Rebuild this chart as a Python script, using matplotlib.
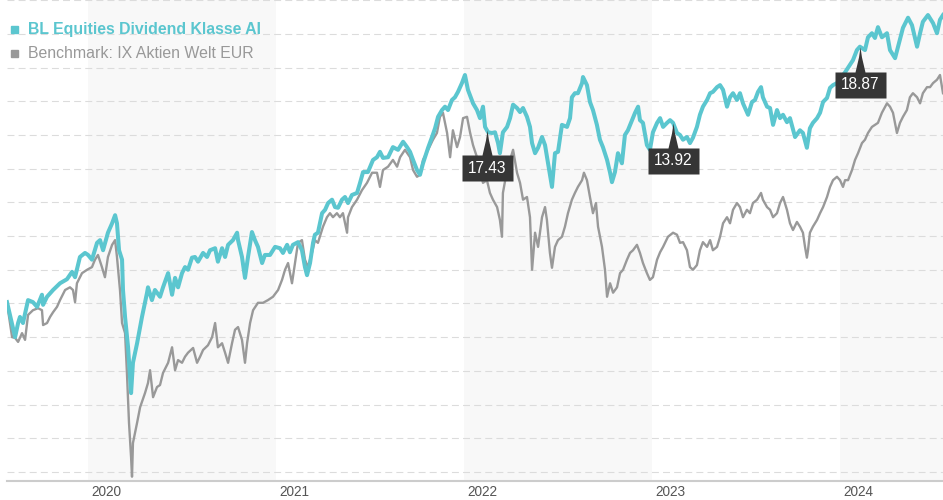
import numpy as np
import matplotlib
matplotlib.use("Agg")
import matplotlib.pyplot as plt
from matplotlib.path import Path

plt.rcParams['font.family'] = ['Liberation Sans', 'DejaVu Sans']
plt.rcParams['lines.scale_dashes'] = False

# Fund and benchmark performance in %, x as decimal years
fund_name = "BL Equities Dividend Klasse AI"
bench_name = "Benchmark: IX Aktien Welt EUR"

fund_t = [
    2019.569, 2019.612, 2019.628, 2019.638, 2019.654, 2019.681, 2019.707, 2019.729, 2019.755, 2019.761,
    2019.782, 2019.814, 2019.851, 2019.888, 2019.915, 2019.931, 2019.957, 2019.984, 2020.000, 2020.021,
    2020.048, 2020.064, 2020.080, 2020.106, 2020.128, 2020.144, 2020.154, 2020.165, 2020.181, 2020.186,
    2020.197, 2020.213, 2020.229, 2020.239, 2020.261, 2020.287, 2020.314, 2020.319, 2020.340, 2020.356,
    2020.383, 2020.399, 2020.426, 2020.447, 2020.463, 2020.479, 2020.500, 2020.516, 2020.532, 2020.553,
    2020.569, 2020.585, 2020.612, 2020.633, 2020.649, 2020.676, 2020.691, 2020.713, 2020.729, 2020.745,
    2020.771, 2020.793, 2020.798, 2020.819, 2020.835, 2020.851, 2020.872, 2020.888, 2020.904, 2020.926,
    2020.941, 2020.968, 2020.995, 2021.021, 2021.037, 2021.059, 2021.074, 2021.090, 2021.117, 2021.138,
    2021.154, 2021.165, 2021.181, 2021.197, 2021.207, 2021.223, 2021.245, 2021.261, 2021.277, 2021.298,
    2021.314, 2021.330, 2021.351, 2021.367, 2021.383, 2021.404, 2021.431, 2021.447, 2021.463, 2021.489,
    2021.516, 2021.537, 2021.553, 2021.569, 2021.596, 2021.622, 2021.649, 2021.676, 2021.697, 2021.713,
    2021.729, 2021.750, 2021.766, 2021.782, 2021.809, 2021.830, 2021.846, 2021.862, 2021.883, 2021.899,
    2021.915, 2021.936, 2021.952, 2021.968, 2021.989, 2022.005, 2022.021, 2022.048, 2022.069, 2022.085,
    2022.101, 2022.112, 2022.128, 2022.149, 2022.165, 2022.181, 2022.191, 2022.207, 2022.229, 2022.245,
    2022.261, 2022.282, 2022.298, 2022.314, 2022.335, 2022.351, 2022.362, 2022.378, 2022.394, 2022.415,
    2022.431, 2022.447, 2022.468, 2022.484, 2022.500, 2022.521, 2022.548, 2022.564, 2022.574, 2022.590,
    2022.606, 2022.628, 2022.633, 2022.654, 2022.670, 2022.686, 2022.707, 2022.723, 2022.739, 2022.761,
    2022.777, 2022.787, 2022.803, 2022.819, 2022.840, 2022.856, 2022.872, 2022.894, 2022.910, 2022.926,
    2022.936, 2022.952, 2022.973, 2022.989, 2023.005, 2023.027, 2023.043, 2023.059, 2023.080, 2023.096,
    2023.112, 2023.133, 2023.149, 2023.165, 2023.186, 2023.202, 2023.218, 2023.239, 2023.255, 2023.271,
    2023.293, 2023.309, 2023.324, 2023.346, 2023.362, 2023.378, 2023.399, 2023.415, 2023.431, 2023.452,
    2023.468, 2023.484, 2023.511, 2023.532, 2023.548, 2023.564, 2023.580, 2023.590, 2023.612, 2023.628,
    2023.644, 2023.665, 2023.681, 2023.697, 2023.718, 2023.734, 2023.761, 2023.787, 2023.803, 2023.824,
    2023.840, 2023.856, 2023.878, 2023.894, 2023.910, 2023.931, 2023.947, 2023.963, 2023.984, 2024.027,
    2024.053, 2024.069, 2024.090, 2024.106, 2024.133, 2024.149, 2024.170, 2024.186, 2024.202, 2024.223,
    2024.250, 2024.266, 2024.293, 2024.309, 2024.335, 2024.362, 2024.383, 2024.410, 2024.426, 2024.441,
    2024.468, 2024.495, 2024.516, 2024.532, 2024.548]
fund_v = [
    0.2, -5.0, -2.9, -2.0, -2.9, 0.5, 0.2, -0.5, 1.3, -0.2,
    1.0, 2.0, 3.0, 3.6, 4.7, 3.9, 6.9, 7.5, 7.2, 6.5,
    9.0, 9.4, 7.9, 10.5, 11.9, 13.1, 11.9, 7.9, 6.5, 2.0,
    -2.0, -6.5, -13.3, -8.8, -5.9, -2.0, 1.6, 2.4, 0.5, 2.0,
    1.0, 2.4, 4.5, 1.3, 3.8, 2.4, 4.5, 5.4, 5.0, 6.8,
    6.9, 6.2, 7.5, 6.9, 7.9, 8.2, 6.2, 8.2, 6.9, 8.7,
    9.4, 10.5, 9.4, 6.9, 3.8, 6.9, 10.6, 9.4, 8.4, 6.0,
    7.2, 7.2, 8.4, 8.2, 7.5, 8.7, 7.6, 8.7, 9.1, 7.9,
    5.4, 4.2, 6.0, 9.0, 10.2, 10.5, 13.4, 13.9, 14.9, 15.4,
    14.3, 14.2, 15.4, 15.8, 14.9, 16.1, 16.4, 17.9, 19.5, 19.5,
    21.3, 21.7, 22.5, 21.6, 21.7, 23.2, 22.8, 24.0, 23.2, 22.5,
    21.3, 19.8, 19.1, 20.8, 23.1, 24.7, 26.0, 27.7, 28.7, 29.2,
    28.7, 30.2, 30.6, 31.4, 32.7, 33.9, 31.7, 29.7, 28.7, 27.5,
    29.2, 26.2, 25.4, 25.3, 25.4, 23.8, 22.3, 25.4, 26.2, 27.5,
    29.5, 29.0, 28.4, 29.0, 27.7, 26.2, 23.8, 22.3, 23.1, 24.7,
    23.5, 20.8, 17.3, 22.3, 22.5, 26.5, 26.2, 27.5, 30.6, 31.2,
    31.2, 32.7, 33.6, 32.4, 29.9, 28.7, 26.5, 24.3, 23.2, 21.3,
    19.4, 18.0, 19.5, 22.3, 20.8, 25.0, 25.7, 27.2, 28.3, 29.2,
    27.2, 26.8, 23.5, 22.8, 25.4, 26.8, 27.5, 26.2, 26.8, 27.2,
    26.8, 25.3, 25.0, 24.3, 24.7, 23.8, 24.6, 26.2, 28.0, 29.2,
    30.2, 31.2, 31.4, 32.1, 32.4, 31.7, 29.2, 30.6, 31.2, 30.2,
    31.2, 29.7, 28.0, 29.9, 30.2, 31.4, 32.1, 30.6, 29.2, 29.0,
    26.5, 28.7, 27.5, 28.0, 26.9, 27.5, 24.7, 25.7, 25.3, 23.1,
    26.0, 26.8, 27.5, 28.3, 29.9, 30.5, 32.0, 32.4, 32.7, 34.3,
    35.4, 36.1, 37.6, 38.1, 37.6, 39.5, 40.1, 39.4, 41.0, 39.5,
    40.1, 37.6, 36.4, 38.1, 40.9, 42.4, 41.3, 38.1, 40.1, 41.8,
    42.8, 41.6, 40.1, 42.1, 42.8]

bench_t = [
    2019.569, 2019.596, 2019.612, 2019.628, 2019.649, 2019.665, 2019.681, 2019.707, 2019.734, 2019.755,
    2019.761, 2019.782, 2019.798, 2019.814, 2019.835, 2019.851, 2019.878, 2019.904, 2019.920, 2019.931,
    2019.941, 2019.968, 2019.995, 2020.021, 2020.037, 2020.053, 2020.074, 2020.090, 2020.106, 2020.128,
    2020.144, 2020.154, 2020.170, 2020.181, 2020.197, 2020.207, 2020.218, 2020.229, 2020.234, 2020.239,
    2020.261, 2020.277, 2020.303, 2020.319, 2020.330, 2020.346, 2020.367, 2020.383, 2020.399, 2020.426,
    2020.447, 2020.463, 2020.479, 2020.500, 2020.516, 2020.532, 2020.559, 2020.580, 2020.596, 2020.612,
    2020.638, 2020.660, 2020.676, 2020.691, 2020.713, 2020.729, 2020.745, 2020.766, 2020.782, 2020.798,
    2020.819, 2020.835, 2020.846, 2020.862, 2020.878, 2020.904, 2020.931, 2020.957, 2020.984, 2021.011,
    2021.032, 2021.048, 2021.064, 2021.085, 2021.101, 2021.117, 2021.138, 2021.154, 2021.170, 2021.191,
    2021.207, 2021.223, 2021.250, 2021.271, 2021.287, 2021.303, 2021.324, 2021.340, 2021.356, 2021.378,
    2021.383, 2021.404, 2021.431, 2021.457, 2021.484, 2021.511, 2021.537, 2021.553, 2021.569, 2021.596,
    2021.622, 2021.644, 2021.660, 2021.686, 2021.713, 2021.729, 2021.750, 2021.766, 2021.782, 2021.809,
    2021.835, 2021.856, 2021.872, 2021.888, 2021.910, 2021.926, 2021.941, 2021.963, 2021.979, 2021.995,
    2022.016, 2022.032, 2022.048, 2022.069, 2022.085, 2022.101, 2022.122, 2022.138, 2022.154, 2022.176,
    2022.191, 2022.202, 2022.207, 2022.229, 2022.245, 2022.261, 2022.282, 2022.298, 2022.314, 2022.335,
    2022.351, 2022.362, 2022.378, 2022.394, 2022.415, 2022.431, 2022.441, 2022.457, 2022.468, 2022.484,
    2022.500, 2022.521, 2022.537, 2022.553, 2022.574, 2022.590, 2022.606, 2022.628, 2022.638, 2022.654,
    2022.670, 2022.686, 2022.702, 2022.713, 2022.734, 2022.750, 2022.761, 2022.777, 2022.793, 2022.814,
    2022.830, 2022.846, 2022.867, 2022.883, 2022.899, 2022.920, 2022.936, 2022.952, 2022.973, 2022.989,
    2023.005, 2023.027, 2023.043, 2023.059, 2023.085, 2023.112, 2023.133, 2023.149, 2023.165, 2023.186,
    2023.202, 2023.218, 2023.239, 2023.255, 2023.271, 2023.293, 2023.309, 2023.324, 2023.346, 2023.362,
    2023.378, 2023.399, 2023.415, 2023.431, 2023.452, 2023.468, 2023.484, 2023.505, 2023.521, 2023.537,
    2023.559, 2023.580, 2023.590, 2023.612, 2023.628, 2023.644, 2023.665, 2023.681, 2023.697, 2023.718,
    2023.734, 2023.750, 2023.771, 2023.787, 2023.803, 2023.814, 2023.824, 2023.830, 2023.840, 2023.856,
    2023.878, 2023.894, 2023.910, 2023.931, 2023.947, 2023.963, 2023.984, 2024.000, 2024.016, 2024.027,
    2024.043, 2024.064, 2024.080, 2024.096, 2024.117, 2024.133, 2024.149, 2024.170, 2024.186, 2024.202,
    2024.223, 2024.250, 2024.266, 2024.282, 2024.303, 2024.319, 2024.335, 2024.356, 2024.372, 2024.388,
    2024.410, 2024.426, 2024.441, 2024.463, 2024.479, 2024.495, 2024.516, 2024.532, 2024.548]
bench_v = [
    0.1, -5.0, -5.1, -5.7, -4.4, -5.4, -1.7, -1.0, -0.7, -1.0,
    -3.2, -2.9, -2.0, -1.3, -0.5, 0.5, 2.0, 2.4, 2.0, 0.2,
    3.0, 4.5, 5.0, 5.4, 6.5, 7.2, 5.4, 3.9, 6.9, 8.7,
    9.4, 6.9, 2.0, -2.9, -4.4, -10.3, -17.7, -22.8, -25.7, -20.7,
    -17.7, -15.4, -13.3, -11.8, -9.9, -13.9, -12.4, -12.1, -10.3, -8.8,
    -6.5, -9.9, -8.4, -8.8, -7.9, -7.3, -6.6, -8.8, -7.9, -6.9,
    -6.2, -5.0, -2.9, -6.5, -5.9, -7.3, -8.8, -5.9, -3.9, -3.5,
    -5.4, -8.8, -5.9, -2.9, -1.0, 0.1, 0.1, 0.5, 1.0, 2.0,
    3.5, 5.0, 6.0, 3.0, 6.0, 9.0, 9.4, 6.5, 5.4, 7.5,
    9.4, 9.0, 11.4, 12.8, 13.4, 12.8, 13.4, 12.8, 13.4, 10.5,
    12.8, 14.3, 15.4, 16.8, 17.9, 19.4, 19.4, 17.3, 19.8, 20.3,
    21.3, 20.3, 21.7, 22.8, 21.7, 19.8, 18.8, 19.1, 21.3, 22.8,
    24.3, 25.3, 27.7, 28.3, 25.3, 21.7, 25.7, 23.2, 24.7, 27.5,
    27.7, 25.4, 23.5, 21.7, 19.8, 17.9, 18.3, 16.4, 15.4, 14.3,
    12.4, 9.9, 16.4, 19.8, 21.3, 22.8, 19.4, 17.9, 15.4, 15.8,
    12.8, 5.0, 10.5, 8.4, 12.8, 14.3, 12.4, 7.5, 5.3, 8.4,
    9.4, 9.9, 11.4, 13.4, 15.4, 16.4, 17.3, 18.3, 19.4, 18.3,
    15.8, 13.4, 14.9, 11.4, 8.4, 5.0, 1.0, 3.0, 1.6, 2.4,
    4.5, 5.0, 6.5, 7.5, 7.9, 8.7, 7.5, 6.0, 4.5, 3.5,
    3.9, 6.5, 7.6, 8.4, 9.9, 10.5, 10.2, 9.0, 9.1, 7.9,
    5.4, 5.0, 5.7, 7.9, 9.1, 8.4, 9.4, 7.9, 8.4, 9.9,
    11.9, 12.8, 11.9, 13.9, 14.9, 14.3, 12.8, 13.9, 13.4, 14.9,
    15.4, 16.4, 15.4, 14.3, 13.9, 12.8, 13.4, 14.9, 15.8, 13.9,
    11.9, 10.9, 12.1, 11.4, 10.5, 8.4, 6.8, 7.9, 10.5, 11.4,
    12.4, 13.4, 14.3, 15.8, 17.3, 18.3, 18.8, 18.3, 17.3, 18.3,
    18.3, 19.8, 21.3, 22.3, 23.8, 24.3, 25.3, 26.2, 26.5, 26.8,
    28.3, 29.7, 29.2, 28.3, 25.3, 26.8, 27.7, 28.7, 30.6, 31.2,
    30.6, 29.7, 31.2, 32.1, 32.1, 32.7, 33.2, 33.9, 31.2]

# flags on the fund line
flag_t = [2022.122, 2023.112, 2024.106]
flag_labels = ["17.43", "13.92", "18.87"]

years = [2020, 2021, 2022, 2023, 2024]

TEAL = "#5bc6cf"
GREY = "#999999"

fig = plt.figure(figsize=(9.43, 5.0), dpi=100)
ax = fig.add_axes([7 / 943, 19 / 500, 936 / 943, 481 / 500])

x0, x1 = fund_t[0], fund_t[-1]
ax.set_xlim(x0, x1)
ax.set_ylim(-26.34, 45.03)

# alternating year bands
for y in years[::2]:
    ax.axvspan(y, min(y + 1, x1), color="#f8f8f8", zorder=0, lw=0)

ax.set_yticks(np.arange(-25, 46, 5))
ax.yaxis.grid(True, color="#dcdcdc", lw=0.8, dashes=(5, 3))
ax.tick_params(axis="y", length=0, labelleft=False)
ax.set_axisbelow(True)

ax.set_xticks([y + 0.1 for y in years])
ax.set_xticklabels([str(y) for y in years])
ax.tick_params(axis="x", length=0, pad=3, labelsize=9.8, labelcolor="#555555")

for s in ["top", "right", "left"]:
    ax.spines[s].set_visible(False)
ax.spines["bottom"].set_color("#cccccc")
ax.spines["bottom"].set_linewidth(1.5)

ax.plot(bench_t, bench_v, color=GREY, lw=1.7, zorder=3, solid_joinstyle="round")
ax.plot(fund_t, fund_v, color=TEAL, lw=2.9, zorder=4, solid_joinstyle="round")

# flag shape: spike + box, in pixel units below the tip
flag_verts = [(0, 0), (1.5, -10), (5, -25), (26, -25), (26, -51), (-25, -51),
              (-25, -25), (-5, -25), (-1.5, -10), (0, 0)]
flag_path = Path(flag_verts, closed=True)
ms = 2 * 51 * 0.72
flag_y = np.interp(flag_t, fund_t, fund_v)
for t, v, lab in zip(flag_t, flag_y, flag_labels):
    ax.plot([t], [v], marker=flag_path, markersize=ms, color="#363636",
            markeredgewidth=0, zorder=6, clip_on=False)
    ax.annotate(lab, xy=(t, v), xytext=(0.5, -38), textcoords="offset pixels",
                ha="center", va="center", color="white", fontsize=11.2, zorder=7)

# legend
fig.patches.append(plt.Rectangle((11 / 943, 1 - 33 / 500), 7 / 943, 7 / 500,
                                 transform=fig.transFigure, color=TEAL))
fig.patches.append(plt.Rectangle((11 / 943, 1 - 57 / 500), 7 / 943, 7 / 500,
                                 transform=fig.transFigure, color=GREY))
fig.text(28 / 943, 1 - 29.5 / 500, fund_name, color=TEAL, fontsize=11.4,
         fontweight="bold", va="center")
fig.text(28 / 943, 1 - 53.5 / 500, bench_name, color=GREY, fontsize=11.4,
         va="center")

fig.savefig("out.png", dpi=100)
